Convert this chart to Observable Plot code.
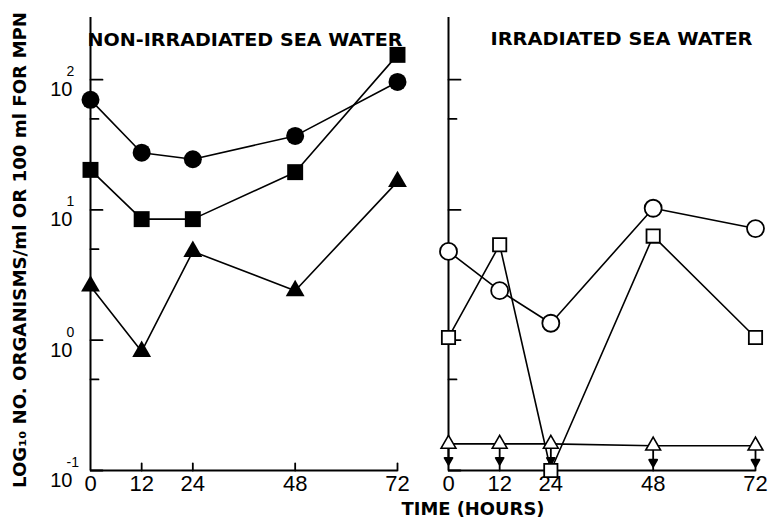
<!DOCTYPE html>
<html>
<head>
<meta charset="utf-8">
<script src="https://cdn.jsdelivr.net/npm/d3@7"></script>
<script src="https://cdn.jsdelivr.net/npm/@observablehq/plot@0.6"></script>
<style>
  html, body { margin: 0; padding: 0; background: white; }
  #chart { width: 771px; height: 525px; }
</style>
</head>
<body>
<div id="chart"></div>
<script>
// ---- data ----
const panels = ["NON-IRRADIATED SEA WATER", "IRRADIATED SEA WATER"];
const hours = [0, 12, 24, 48, 72];

// Non-irradiated sea water (filled symbols)
const nonCircle   = [70, 27.5, 24.5, 37, 96];
const nonSquare   = [20.3, 8.5, 8.5, 19.5, 155];
const nonTriangle = [2.6, 0.82, 4.8, 2.4, 16.5];

// Irradiated sea water (open symbols)
const irrCircle   = [4.8, 2.4, 1.35, 10.3, 7.2];
const irrSquare   = [1.05, 5.4, 0.1, 6.3, 1.05];
const irrTriangle = [0.16, 0.16, 0.16, 0.155, 0.155]; // "less than" values

// axis ticks / labels
const xTicks = [0, 12, 24, 48, 72];
const yMajor = [0.1, 1, 10, 100];
const yExp   = ["-1", "0", "1", "2"];
const yMinor = [0.5, 5, 50];
const yDomain = [0.1, 300];

const yTitle = "LOG\u2081\u2080 NO. ORGANISMS/ml OR 100 ml FOR MPN";
const xTitle = "TIME (HOURS)";

// ---- build table ----
const rows = (panel, series, vals) => hours.map((h, i) => ({panel, series, hour: h, value: vals[i]}));
const nc = rows(panels[0], "circle", nonCircle);
const ns = rows(panels[0], "square", nonSquare);
const nt = rows(panels[0], "triangle", nonTriangle);
const ic = rows(panels[1], "circle", irrCircle);
const is = rows(panels[1], "square", irrSquare);
const it = rows(panels[1], "triangle", irrTriangle);
const all = [...nc, ...ns, ...nt, ...ic, ...is, ...it];

const lineShape = {draw(context, l) { context.moveTo(0, 0); context.lineTo(0, -l); }};
const arrowShape = {draw(context, l) {
  context.moveTo(0, 0); context.lineTo(0, -l + 6);
  context.moveTo(-4, -l + 7); context.lineTo(0, -l); context.lineTo(4, -l + 7); context.closePath();
}};
const bold = {fontFamily: "DejaVu Sans", fontWeight: "bold"};

const chart = Plot.plot({
  width: 771,
  height: 525,
  marginLeft: 90,
  marginRight: 16,
  marginTop: 17,
  marginBottom: 55,
  style: {fontFamily: "Liberation Sans", background: "white", color: "black"},
  fx: {domain: panels, paddingInner: 0.1425, paddingOuter: 0, axis: null, label: null},
  x: {domain: [0, 72], axis: null},
  y: {type: "log", domain: yDomain, axis: null},
  marks: [
    // axis lines
    Plot.ruleX([0], {stroke: "black", strokeWidth: 2}),
    Plot.ruleY([yDomain[0]], {stroke: "black", strokeWidth: 2}),
    // inward ticks
    Plot.vector(yMajor, {y: d => d, frameAnchor: "left", rotate: 90, length: 12, anchor: "start", shape: lineShape, stroke: "black", strokeWidth: 1.8}),
    Plot.vector(yMinor, {y: d => d, frameAnchor: "left", rotate: 90, length: 8, anchor: "start", shape: lineShape, stroke: "black", strokeWidth: 1.8}),
    Plot.vector(xTicks.slice(1), {x: d => d, frameAnchor: "bottom", rotate: 0, length: 7, anchor: "start", shape: lineShape, stroke: "black", strokeWidth: 1.8}),
    // tick labels
    Plot.text(xTicks, {x: d => d, frameAnchor: "bottom", dy: 20, text: d => String(d), fontSize: 22, fill: "black"}),
    Plot.text(yMajor, {y: d => d, fx: () => panels[0], frameAnchor: "left", text: () => "10", textAnchor: "end", dx: -18, dy: 10, fontSize: 20, fill: "black"}),
    Plot.text(yMajor, {y: d => d, fx: () => panels[0], frameAnchor: "left", text: (d, i) => yExp[i], textAnchor: "start", dx: -24, dy: -8, fontSize: 14, fill: "black"}),
    // titles
    Plot.text([panels[0]], {fx: d => d, text: d => d, frameAnchor: "top-left", textAnchor: "start", dx: -3, dy: 16, fontSize: 18, ...bold}),
    Plot.text([panels[1]], {fx: d => d, text: d => d, frameAnchor: "top-right", textAnchor: "end", dx: -3, dy: 15, fontSize: 18, ...bold}),
    Plot.text([yTitle], {fx: () => panels[0], text: d => d, frameAnchor: "left", textAnchor: "middle", rotate: -90, dx: -70, dy: 6, fontSize: 17, ...bold}),
    Plot.text([xTitle], {fx: () => panels[1], text: d => d, frameAnchor: "bottom-left", textAnchor: "start", dx: -47, dy: 44, fontSize: 17, ...bold}),
    // data lines
    Plot.line(all, {x: "hour", y: "value", z: d => d.panel + d.series, fx: "panel", stroke: "black", strokeWidth: 1.6}),
    // "less than" arrows
    Plot.vector(it, {x: "hour", y: "value", fx: "panel", rotate: 180, length: 21, anchor: "start", shape: arrowShape, stroke: "black", fill: "black", strokeWidth: 1.8}),
    // filled symbols
    Plot.dot(nc, {x: "hour", y: "value", fx: "panel", symbol: "circle", r: 9, fill: "black", stroke: null}),
    Plot.dot(ns, {x: "hour", y: "value", fx: "panel", symbol: "square", r: 9, fill: "black", stroke: null}),
    Plot.dot(nt, {x: "hour", y: "value", fx: "panel", symbol: "triangle", r: 7, fill: "black", stroke: null}),
    // open symbols
    Plot.dot(ic, {x: "hour", y: "value", fx: "panel", symbol: "circle", r: 8.5, fill: "white", stroke: "black", strokeWidth: 1.8}),
    Plot.dot(is, {x: "hour", y: "value", fx: "panel", symbol: "square", r: 7.5, fill: "white", stroke: "black", strokeWidth: 1.8}),
    Plot.dot(it, {x: "hour", y: "value", fx: "panel", symbol: "triangle", r: 5.5, fill: "white", stroke: "black", strokeWidth: 1.6})
  ]
});

document.getElementById("chart").appendChild(chart);

// stretch the bold titles to the widths seen in the reference
const lengths = new Map([[panels[0], 315], [panels[1], 262], [yTitle, 476], [xTitle, 143]]);
d3.select(chart).selectAll("text").each(function () {
  const t = this.textContent;
  if (lengths.has(t)) {
    d3.select(this).attr("textLength", lengths.get(t)).attr("lengthAdjust", "spacingAndGlyphs");
  }
});
</script>
</body>
</html>
